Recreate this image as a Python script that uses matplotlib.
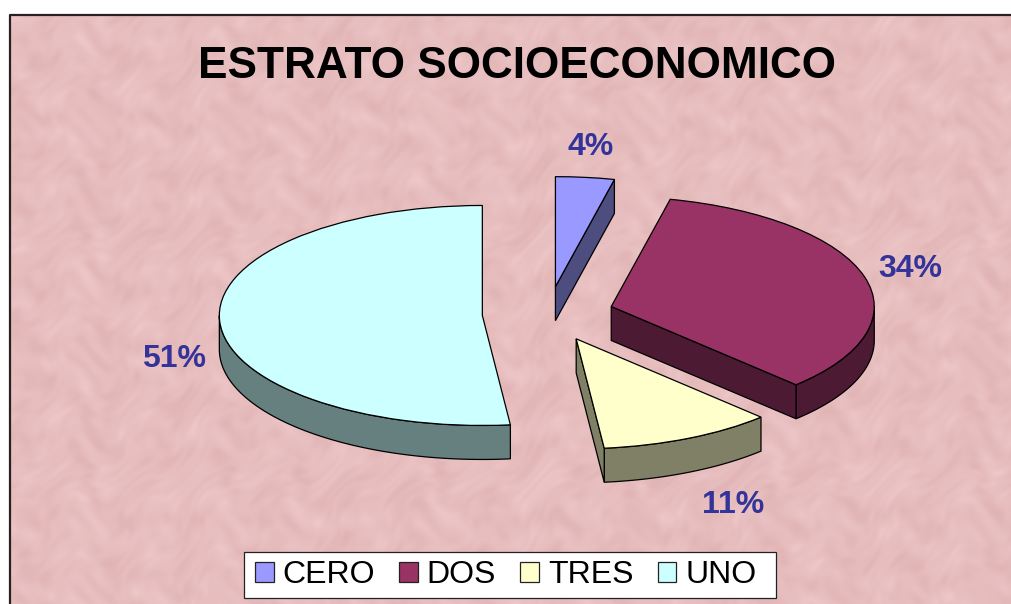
import numpy as np
import matplotlib
matplotlib.use("Agg")
import matplotlib.pyplot as plt
from matplotlib.patches import Polygon, Patch, Rectangle

plt.rcParams['font.family'] = ['Liberation Sans', 'DejaVu Sans']

W, H = 1011, 604
TITLE = "ESTRATO SOCIOECONOMICO"
categories = ["CERO", "DOS", "TRES", "UNO"]
values = [3.6, 34.0, 10.7, 51.7]
pct_labels = ["4%", "34%", "11%", "51%"]
colors = ["#9999FF", "#993366", "#FFFFCC", "#CCFFFF"]
side_colors = ["#4D4D80", "#4D1A33", "#808066", "#668080"]
label_px = [(591, 147), (910, 269), (733, 505), (174, 359)]

CX, CY, RX, RY, DEPTH, EXPLODE = 548, 314, 263, 110, 34, 0.25

fig = plt.figure(figsize=(W / 100, H / 100), dpi=100, facecolor="white")

# background: soft mottled tissue texture (sum of warped waves)
bg = fig.add_axes([0, 0, 1, 1])
bg.set_xlim(0, W); bg.set_ylim(H, 0); bg.axis("off")
yy, xx = np.mgrid[0:H, 0:W].astype(float)
wx = xx + 14 * np.sin(yy / 37.0) + 9 * np.sin(yy / 13.0 + 1.0)
wy = yy + 14 * np.sin(xx / 29.0 + 0.5) + 9 * np.sin(xx / 11.0 + 2.0)
tex = np.zeros_like(xx)
for ux, uy, wl, ph, amp in [(0.96, 0.28, 71, 0.3, 1.0), (-0.42, 0.91, 53, 1.2, 1.0),
                            (0.62, -0.78, 37, 2.5, 0.8), (0.15, 0.99, 29, 4.0, 0.7),
                            (0.99, -0.12, 23, 5.1, 0.6), (-0.73, -0.68, 17, 0.9, 0.5),
                            (0.35, 0.94, 13, 3.3, 0.35), (0.88, 0.47, 11, 1.7, 0.3)]:
    tex += amp * np.sin((ux * wx + uy * wy) * 2 * np.pi / wl + ph)
base = np.array([231, 189, 190], float) / 255
rgb = np.clip(base[None, None, :] + tex[..., None] * np.array([0.006, 0.009, 0.009]), 0, 1)
bg.imshow(rgb, extent=(9.5, W, H, 15), aspect="auto", zorder=0, interpolation="bilinear")
bg.plot([9.5, 9.5, W], [H, 15, 15], color="#2b2020", lw=1.6, zorder=1, solid_capstyle="butt")
bg.set_xlim(0, W); bg.set_ylim(H, 0)

# pie axes: one data unit is RX px across and RY px tall
ax = fig.add_axes([0, 0, 1, 1])
ax.patch.set_alpha(0)
wedges, _ = ax.pie(values, colors=colors, explode=[EXPLODE] * len(values), startangle=90,
                   counterclock=False, radius=1,
                   wedgeprops=dict(edgecolor="black", linewidth=0.9, zorder=5))
ax.set_aspect("auto")
ax.set_xlim(-CX / RX, (W - CX) / RX)
ax.set_ylim((CY - H) / RY, CY / RY)
ax.axis("off")
d = DEPTH / RY


def face(pts, col):
    pts = np.asarray(pts)
    low = pts[::-1] - [0, d]
    ax.add_patch(Polygon(np.vstack([pts, low]), closed=True, facecolor=col,
                         edgecolor="black", linewidth=0.9, zorder=3))


for w, sc in zip(wedges, side_colors):
    # Wedge angles are stored counter-clockwise: theta1 is the clockwise end
    c = np.array(w.center)
    t1, t2 = w.theta1, w.theta2
    # outer arc, only the part facing the viewer (lower half)
    lo, hi = max(t1, -180), min(t2, 0)
    if t2 > 180:
        lo, hi = max(t1 - 360, -180), min(t2 - 360, 0)
    if hi > lo:
        a = np.radians(np.linspace(lo, hi, 80))
        face(c + np.c_[np.cos(a), np.sin(a)], sc)
    # radial faces turned toward the viewer
    for th, visible in ((t1, np.cos(np.radians(t1)) > 1e-6),
                        (t2, np.cos(np.radians(t2)) < -1e-6)):
        if visible:
            r = np.radians(th)
            face([c, c + [np.cos(r), np.sin(r)]], sc)

for txt, (x, y) in zip(pct_labels, label_px):
    fig.text(x / W, 1 - y / H, txt, color="#333399", fontsize=23, fontweight="bold",
             ha="center", va="center")

fig.text(517 / W, 1 - 67 / H, TITLE, color="black", fontsize=31.8, fontweight="bold",
         ha="center", va="center")

# legend box is sized to the reference, entries sit inside it
fig.add_artist(Rectangle((244 / W, 1 - 598 / H), 532 / W, 46 / H, transform=fig.transFigure,
                         facecolor="white", edgecolor="#222222", linewidth=0.9, zorder=2))
handles = [Patch(facecolor=c, edgecolor="#222222", linewidth=0.9, label=n)
           for c, n in zip(colors, categories)]
leg = fig.legend(handles=handles, ncol=4, loc="center left", bbox_to_anchor=(255 / W, 1 - 575 / H),
                 bbox_transform=fig.transFigure, frameon=False, fontsize=23,
                 handlelength=0.58, handleheight=0.6, handletextpad=0.28, columnspacing=0.76,
                 borderpad=0, borderaxespad=0)

fig.savefig("out.png", dpi=100)
